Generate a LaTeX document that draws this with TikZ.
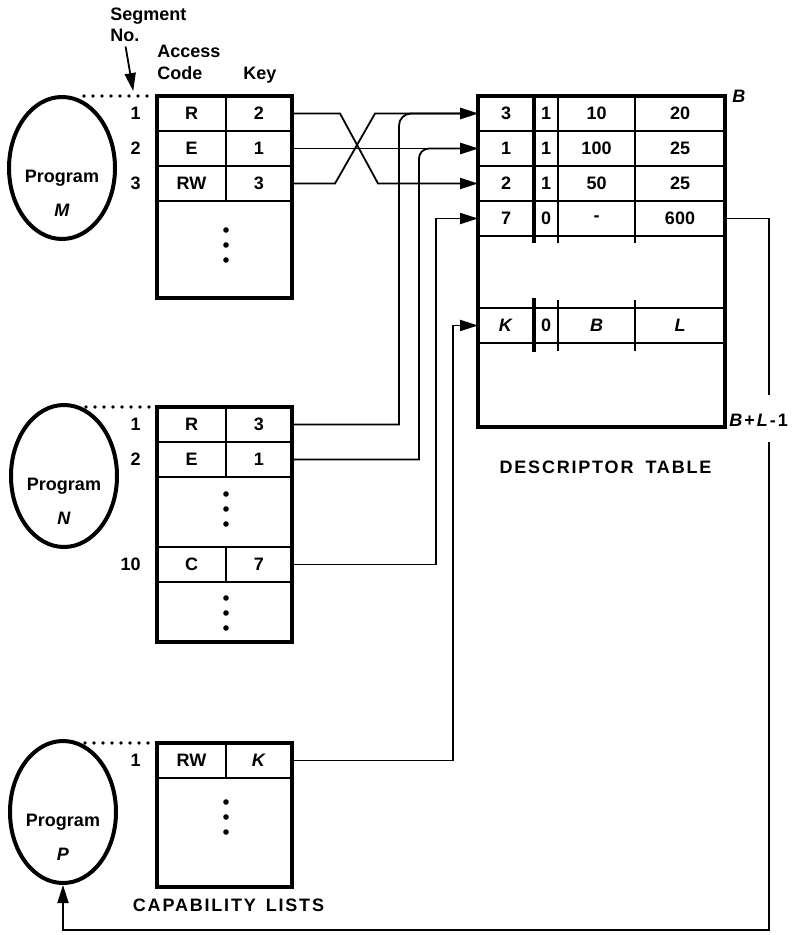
\documentclass[tikz,border=0pt]{standalone}
\usepackage{fontspec}
\setmainfont{Liberation Sans}
\usetikzlibrary{shapes,arrows.meta,positioning,calc}

\begin{document}
\begin{tikzpicture}[x=0.5pt, y=-0.5pt, font=\fontsize{9}{11}\selectfont\bfseries,
  prog/.style={draw, ellipse, line width=2pt, minimum width=53pt, minimum height=71pt, inner sep=0pt},
  progtext/.style={align=center, inner sep=0pt, font=\fontsize{9}{17}\selectfont\bfseries},
  caplist/.style={draw, line width=2pt, inner sep=0pt, outer sep=0pt, anchor=north west, minimum width=67.5pt},
  cell/.style={draw, line width=0.7pt, inner sep=0pt, outer sep=0pt, minimum height=17.5pt},
  acc/.style={cell, minimum width=34.5pt},
  keyc/.style={cell, minimum width=33pt},
  dcol1/.style={cell, minimum width=28pt},
  dcol2/.style={cell, minimum width=12pt},
  dcol3/.style={cell, minimum width=38.5pt},
  dcol4/.style={cell, minimum width=45pt},
  segnum/.style={inner sep=1pt},
  hd/.style={inner sep=0pt},
  conn/.style={line width=0.9pt},
  arrline/.style={conn, -{Triangle[length=9pt, width=5.5pt]}},
  dotrule/.style={line width=1.8pt, line cap=round, dash pattern=on 0pt off 4.5pt},
  bitline/.style={line width=2pt},
  cellline/.style={line width=0.7pt},
]
\useasboundingbox (0,0) rectangle (793,935);

% Ueberschriften
\node[hd, anchor=base west] (seg) at (110,21) {Segment};
\node[hd, anchor=base west] (segNo) at (110,42) {No.};
\node[hd, anchor=base west] (hdAccess) at (157,58) {Access};
\node[hd, anchor=base west] (hdCode) at (157,80) {Code};
\node[hd, anchor=base] (hdKey) at (260,80) {Key};

% Program M
\node[prog] (progM) at (62,168) {};
\node[progtext] (progMtxt) at ($(progM.center)+(0,25)$) {Program\\\textit{M}};

% Liste von M
\node[acc] (m1a) at (191.5,113.5) {R};
\node[keyc, right=0pt of m1a] (m1k) {2};
\node[acc, below=0pt of m1a] (m2a) {E};
\node[keyc, right=0pt of m2a] (m2k) {1};
\node[acc, below=0pt of m2a] (m3a) {RW};
\node[keyc, right=0pt of m3a] (m3k) {3};
\node[caplist, minimum height=101pt] (tabM) at (m1a.north west) {};
\node[segnum, left=7pt of m1a] (numM1) {1};
\node[segnum, left=7pt of m2a] (numM2) {2};
\node[segnum, left=7pt of m3a] (numM3) {3};
\fill ($(m3a.south east)+(0,29)$) circle (2.8) ++(0,15) circle (2.8) ++(0,15) circle (2.8);

% Program N
\node[prog] (progN) at (64,476) {};
\node[progtext] (progNtxt) at ($(progN.center)+(0,25)$) {Program\\\textit{N}};

% Liste von N
\node[acc] (n1a) at (191.5,424.5) {R};
\node[keyc, right=0pt of n1a] (n1k) {3};
\node[acc, below=0pt of n1a] (n2a) {E};
\node[keyc, right=0pt of n2a] (n2k) {1};
\node[acc] (n10a) at (191.5,564.5) {C};
\node[keyc, right=0pt of n10a] (n10k) {7};
\node[caplist, minimum height=117.5pt] (tabN) at (n1a.north west) {};
\node[segnum, left=7pt of n1a] (numN1) {1};
\node[segnum, left=7pt of n2a] (numN2) {2};
\node[segnum, left=7pt of n10a] (numN10) {10};
\fill ($(n2a.south east)+(0,17)$) circle (2.8) ++(0,15) circle (2.8) ++(0,15) circle (2.8);
\fill ($(n10a.south east)+(0,16)$) circle (2.8) ++(0,15) circle (2.8) ++(0,15) circle (2.8);

% Program P
\node[prog] (progP) at (63,812) {};
\node[progtext] (progPtxt) at ($(progP.center)+(0,25)$) {Program\\\textit{P}};

% Liste von P
\node[acc] (p1a) at (191.5,760.5) {RW};
\node[keyc, right=0pt of p1a] (p1k) {\textit{K}};
\node[caplist, minimum height=72pt] (tabP) at (p1a.north west) {};
\node[segnum, left=7pt of p1a] (numP1) {1};
\fill ($(p1a.south east)+(0,24)$) circle (2.8) ++(0,15) circle (2.8) ++(0,15) circle (2.8);
\node[hd, below=6pt of tabP, xshift=2pt] (capLbl) {\addfontfeature{LetterSpace=10}CAPABILITY\hspace{5pt}LISTS};

% Deskriptortabelle
\node[dcol1] (d1a) at (506,113.5) {3};
\node[dcol2, right=0pt of d1a] (d1b) {1};
\node[dcol3, right=0pt of d1b] (d1c) {10};
\node[dcol4, right=0pt of d1c] (d1d) {20};
\node[dcol1, below=0pt of d1a] (d2a) {1};
\node[dcol2, right=0pt of d2a] (d2b) {1};
\node[dcol3, right=0pt of d2b] (d2c) {100};
\node[dcol4, right=0pt of d2c] (d2d) {25};
\node[dcol1, below=0pt of d2a] (d3a) {2};
\node[dcol2, right=0pt of d3a] (d3b) {1};
\node[dcol3, right=0pt of d3b] (d3c) {50};
\node[dcol4, right=0pt of d3c] (d3d) {25};
\node[dcol1, below=0pt of d3a] (d4a) {7};
\node[dcol2, right=0pt of d4a] (d4b) {0};
\node[dcol3, right=0pt of d4b] (d4c) {-};
\node[dcol4, right=0pt of d4c] (d4d) {600};
\node[dcol1] (dKa) at (506,325.5) {\textit{K}};
\node[dcol2, right=0pt of dKa] (dKb) {0};
\node[dcol3, right=0pt of dKb] (dKc) {\textit{B}};
\node[dcol4, right=0pt of dKc] (dKd) {\textit{L}};
\draw[bitline] (d1a.north east) -- ($(d4a.south east)+(0,7)$);
\draw[bitline] ($(dKa.north east)+(0,-10)$) -- ($(dKa.south east)+(0,9)$);
\draw[cellline] (d1b.north east) -- ($(d4b.south east)+(0,7)$);
\draw[cellline] ($(dKb.north east)+(0,-8)$) -- ($(dKb.south east)+(0,8)$);
\draw[cellline] (d1c.north east) -- ($(d4c.south east)+(0,7)$);
\draw[cellline] ($(dKc.north east)+(0,-8)$) -- ($(dKc.south east)+(0,8)$);
\node[caplist, minimum width=123.5pt, minimum height=165.5pt] (tabD) at (d1a.north west) {};
\node[hd, below=17pt of tabD, xshift=2pt] (descLbl) {\addfontfeature{LetterSpace=10}DESCRIPTOR\hspace{6pt}TABLE};
\node[hd, anchor=west] (lblB) at ($(tabD.north east)+(7,0)$) {\textit{B}};
\node[hd, anchor=west] (lblBL) at ($(tabD.south east)+(4,-7)$) {\textit{B}\kern1pt+\kern1pt\textit{L}\kern1pt-\kern1pt1};

% Verbindungen
\draw[arrline, shorten <=2pt, shorten >=7pt] (segNo.south) -- (numM1.north);
\draw[dotrule] ({$(progM.north)+(22,0)$} |- tabM.north west) -- ($(tabM.north west)+(-7,0)$);
\draw[dotrule] ({$(progN.north)+(22,0)$} |- tabN.north west) -- ($(tabN.north west)+(-7,0)$);
\draw[dotrule] ({$(progP.north)+(22,0)$} |- tabP.north west) -- ($(tabP.north west)+(-7,0)$);
\draw[arrline] (m1k.east) -- ++(48,0) -- ($(d3a.west)+(-100,0)$) -- (d3a.west);
\draw[arrline] (m2k.east) -- (d2a.west);
\draw[arrline] (m3k.east) -- ++(43,0) -- ($(d1a.west)+(-103,0)$) -- (d1a.west);
\draw[arrline] (n1k.east) -| ($(d1a.west)+(-79,28)$) [rounded corners=6pt] |- (d1a.west);
\draw[arrline] (n2k.east) -| ($(d2a.west)+(-59,25)$) [rounded corners=5pt] |- (d2a.west);
\draw[arrline] (n10k.east) -| ($(d4a.west)+(-42,0)$) -- (d4a.west);
\draw[arrline] (p1k.east) -| ($(dKa.west)+(-25,0)$) -- (dKa.west);
\coordinate (gapTop) at (769,395);
\coordinate (gapBot) at (769,442);
\coordinate (loopEnd) at (769,930);
\draw[arrline] (d4d.east) -| (gapTop) (gapBot) -- (loopEnd) -| (progP.south);
\end{tikzpicture}
\end{document}
